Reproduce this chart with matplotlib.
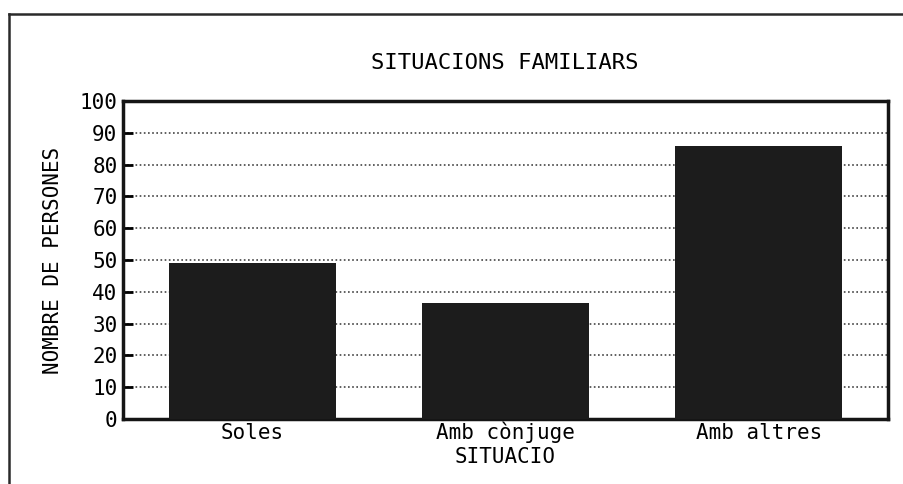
import matplotlib.pyplot as plt
from matplotlib.lines import Line2D

categories = ['Soles', 'Amb cònjuge', 'Amb altres']
persones = [49, 36.5, 86]
yticks = [0, 10, 20, 30, 40, 50, 60, 70, 80, 90, 100]

plt.rcParams['font.family'] = ['DejaVu Sans Mono']

fig = plt.figure(figsize=(9.04, 4.84), dpi=100)
fig.patch.set_facecolor('white')
ax = fig.add_axes([123 / 904, 1 - 419 / 484, (888 - 123) / 904, (419 - 101) / 484])

x = range(len(categories))
ax.bar(x, persones, width=0.66, color='#1c1c1c', zorder=3)

ax.set_xlim(-0.51, 2.51)
ax.set_ylim(0, 100)
ax.set_yticks(yticks)
ax.set_xticks(list(x))
ax.set_xticklabels(categories, fontsize=15, va='baseline')
ax.tick_params(axis='y', direction='in', length=7, width=2, pad=4, labelsize=15)
ax.tick_params(axis='x', length=0, pad=14.5)

for v in yticks[1:-1]:
    ax.axhline(v, color='#444444', linewidth=1.2, linestyle=(0, (1, 1.5)), zorder=1)

for s in ax.spines.values():
    s.set_linewidth(2.5)
    s.set_color('#151515')

ax.set_xlabel('SITUACIO', fontsize=15, va='center')
ax.xaxis.set_label_coords(0.5, -(457 - 419) / 318)
ax.set_ylabel('NOMBRE DE PERSONES', fontsize=15, labelpad=12)
fig.text(505 / 904, 1 - 63 / 484, 'SITUACIONS FAMILIARS', fontsize=16,
         ha='center', va='center')

# outer frame of the scanned page
fig.add_artist(Line2D([9 / 904, 9 / 904], [0, 1 - 14 / 484], transform=fig.transFigure,
                      color='#2a2a2a', linewidth=1.8))
fig.add_artist(Line2D([9 / 904, 1], [1 - 14 / 484, 1 - 14 / 484], transform=fig.transFigure,
                      color='#2a2a2a', linewidth=1.8))

fig.savefig('out.png', dpi=100)
